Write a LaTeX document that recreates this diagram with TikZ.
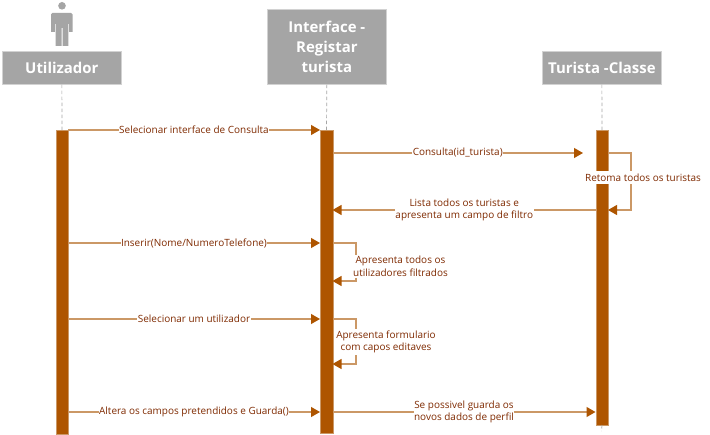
\documentclass[tikz,border=0pt]{standalone}
\usepackage{fontspec}
\setmainfont{Open Sans}
\usetikzlibrary{arrows.meta}
\definecolor{barc}{HTML}{AE5500}
\definecolor{linec}{HTML}{CB9866}
\definecolor{txtc}{HTML}{7F2A00}
\definecolor{headc}{HTML}{A5A5A5}
\definecolor{edgec}{HTML}{D2D2D2}
\tikzset{
  x=1bp,y=-1bp,
  head/.style={fill=headc,draw=edgec,line width=0.7bp,text=white,font=\fontsize{15}{20}\selectfont\bfseries,align=center,inner sep=0pt,anchor=north west},
  bar/.style={fill=barc,draw=linec,line width=0.5bp,inner sep=0pt,anchor=north west},
  life/.style={draw=black!35,line width=0.7bp,dash pattern=on 3.5bp off 2.5bp},
  msg/.style={draw=linec,line width=1.1bp,-{Triangle[length=9bp,width=10bp,fill=barc,color=barc]}},
  lbl/.style={fill=white,text=txtc,font=\fontsize{10}{12.6}\selectfont,align=center,inner xsep=0.5bp,inner ysep=0pt},
}
\begin{document}
\begin{tikzpicture}
\useasboundingbox (0,0) rectangle (710,435);
\fill[white] (0,0) rectangle (710,435);
% actor
\fill[headc] (62,5.8) circle (3.8bp);
\fill[headc] (52.5,13) -- (71,13) -- (72.5,14.5) -- (72.5,32) -- (69,32) -- (69,24) -- (68.3,24) -- (68.3,46) -- (62.5,46) -- (62.5,28) -- (61.5,28) -- (61.5,46) -- (55.6,46) -- (55.6,24) -- (54.9,24) -- (54.9,32) -- (51,32) -- (51,14.5) -- cycle;
% heads
\node[head,minimum width=119bp,minimum height=33bp] (hu) at (2,51) {Utilizador};
\node[head,minimum width=119bp,minimum height=75bp] (hi) at (267,9) {Interface -\\Registar\\turista};
\node[head,minimum width=119bp,minimum height=33bp] (ht) at (542,51) {Turista -Classe};
% bars
\node[bar,minimum width=12.5bp,minimum height=304bp] (bu) at (55.5,130) {};
\node[bar,minimum width=12.5bp,minimum height=303bp] (bi) at (320,130) {};
\node[bar,minimum width=12.5bp,minimum height=294.5bp] (bt) at (595.5,130) {};
% lifelines
\draw[life] (hu.south) -- (bu.north);
\draw[life] (hi.south) -- (bi.north);
\draw[life] (ht.south) -- (bt.north);
\coordinate (tend) at (601.5,431);
\draw[life] (bt.south) -- (tend);
% anchors
\coordinate (a1) at (68,130); \coordinate (b1) at (320,130);
\coordinate (a2) at (332.5,153); \coordinate (b2) at (583,153);
\coordinate (c2) at (608,153); \coordinate (d2) at (631,153); \coordinate (e2) at (631,210); \coordinate (f2) at (608,210);
\coordinate (a3) at (596,210); \coordinate (b3) at (332.5,210);
\coordinate (a4) at (68,243); \coordinate (b4) at (320,243);
\coordinate (c4) at (332.5,243); \coordinate (d4) at (356,243); \coordinate (e4) at (356,281); \coordinate (f4) at (332.5,281);
\coordinate (a5) at (68,319); \coordinate (b5) at (320,319);
\coordinate (c5) at (332.5,319); \coordinate (d5) at (356,319); \coordinate (e5) at (356,364); \coordinate (f5) at (332.5,364);
\coordinate (a6) at (68,412); \coordinate (b6) at (320,412);
\coordinate (c6) at (332.5,412); \coordinate (d6) at (595.5,412);
% messages
\draw[msg] (a1) -- node[lbl,pos=0.5] (m1) {Selecionar interface de Consulta} (b1);
\draw[msg] (a2) -- node[lbl,pos=0.5] (m2) {Consulta(id\_turista)} (b2);
\draw[msg] (c2) -- (d2) -- (e2) -- (f2);
\node[lbl,minimum height=13bp] (m3) at (643,177.5) {Retoma todos os turistas};
\draw[msg] (a3) -- node[lbl,pos=0.5] (m4) {Lista todos os turistas e\\apresenta um campo de filtro} (b3);
\draw[msg] (a4) -- node[lbl,pos=0.5] (m5) {Inserir(Nome/NumeroTelefone)} (b4);
\draw[msg] (c4) -- (d4) -- (e4) -- (f4);
\node[lbl,inner ysep=1.5bp] (m6) at (400.5,266.5) {Apresenta todos os\\utilizadores filtrados};
\draw[msg] (a5) -- node[lbl,pos=0.5] (m7) {Selecionar um utilizador} (b5);
\draw[msg] (c5) -- (d5) -- (e5) -- (f5);
\node[lbl,inner ysep=1.5bp] (m8) at (386,342) {Apresenta formulario\\com capos editaves};
\draw[msg] (a6) -- node[lbl,pos=0.5] (m9) {Altera os campos pretendidos e Guarda()} (b6);
\draw[msg] (c6) -- node[lbl,pos=0.5] (m10) {Se possivel guarda os\\novos dados de perfil} (d6);
\end{tikzpicture}
\end{document}
